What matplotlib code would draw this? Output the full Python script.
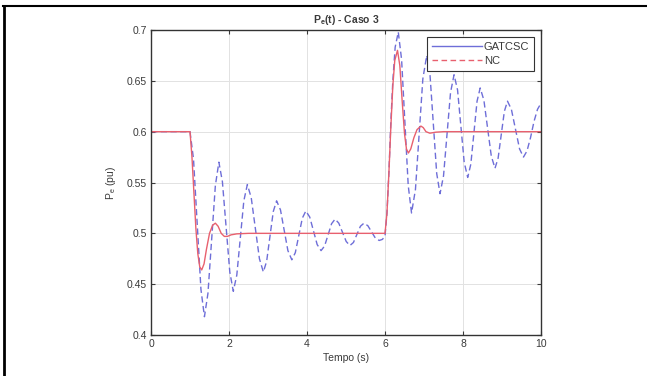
import matplotlib
matplotlib.use('Agg')
import matplotlib.pyplot as plt
from matplotlib.lines import Line2D

plt.rcParams['font.family'] = ['Liberation Sans', 'DejaVu Sans']
plt.rcParams['mathtext.fontset'] = 'custom'
plt.rcParams['mathtext.rm'] = 'Liberation Sans'
plt.rcParams['mathtext.bf'] = 'Liberation Sans:bold'
plt.rcParams['mathtext.default'] = 'regular'

# dashed blue curve
t_blue = [0.0, 1.00, 1.09, 1.185, 1.28, 1.37, 1.46, 1.555, 1.65, 1.74, 1.83, 1.925, 2.02,
          2.11, 2.20, 2.29, 2.38, 2.47, 2.57, 2.675, 2.78, 2.88, 2.965, 3.05, 3.135,
          3.22, 3.32, 3.415, 3.51, 3.61, 3.70, 3.79, 3.88, 3.97, 4.07, 4.165, 4.26,
          4.36, 4.45, 4.54, 4.63, 4.72, 4.815, 4.91, 5.005, 5.10, 5.19, 5.28, 5.37,
          5.46, 5.56, 5.655, 5.75, 5.85, 5.93, 6.00, 6.05, 6.10, 6.15, 6.20, 6.26,
          6.34, 6.425, 6.51, 6.595, 6.68, 6.78, 6.875, 6.97, 7.07, 7.155, 7.24, 7.325,
          7.41, 7.50, 7.59, 7.68, 7.77, 7.86, 7.945, 8.03, 8.12, 8.20, 8.28, 8.36,
          8.44, 8.535, 8.63, 8.725, 8.82, 8.90, 8.98, 9.06, 9.14, 9.24, 9.345, 9.45,
          9.55, 9.64, 9.73, 9.82, 9.91, 10.0]
y_blue = [0.600, 0.600, 0.573, 0.509, 0.445, 0.418, 0.441, 0.494, 0.547, 0.570, 0.551, 0.5065, 0.462,
          0.443, 0.459, 0.4955, 0.532, 0.548, 0.535, 0.505, 0.475, 0.462, 0.4725, 0.497, 0.5215,
          0.532, 0.523, 0.503, 0.483, 0.474, 0.481, 0.498, 0.515, 0.522, 0.516, 0.5025, 0.489,
          0.483, 0.4875, 0.4985, 0.5095, 0.514, 0.510, 0.501, 0.492, 0.488, 0.491, 0.499, 0.507,
          0.510, 0.5075, 0.5015, 0.4955, 0.493, 0.494, 0.497, 0.520, 0.560, 0.610, 0.650, 0.683,
          0.698, 0.671, 0.609, 0.547, 0.520, 0.543, 0.5975, 0.652, 0.675, 0.655, 0.607, 0.559,
          0.539, 0.5565, 0.5975, 0.6385, 0.656, 0.641, 0.6055, 0.570, 0.555, 0.568, 0.599, 0.630,
          0.643, 0.631, 0.6035, 0.576, 0.564, 0.574, 0.597, 0.620, 0.630, 0.622, 0.6025, 0.583,
          0.575, 0.581, 0.594, 0.610, 0.622, 0.628]

# solid red curve
t_red = [0.0, 1.00, 1.05, 1.10, 1.15, 1.20, 1.25, 1.30, 1.36, 1.42, 1.50, 1.58, 1.65, 1.72,
         1.80, 1.88, 1.96, 2.05, 2.20, 2.50, 6.00, 6.05, 6.10, 6.15, 6.20, 6.25, 6.32,
         6.38, 6.44, 6.50, 6.55, 6.60, 6.66, 6.74, 6.82, 6.92, 6.98, 7.05, 7.15, 7.30, 7.50, 10.0]
y_red = [0.600, 0.600, 0.575, 0.540, 0.505, 0.480, 0.467, 0.464, 0.470, 0.484, 0.500, 0.508, 0.510, 0.507,
         0.500, 0.497, 0.497, 0.4985, 0.4995, 0.500, 0.500, 0.520, 0.560, 0.605, 0.645, 0.670, 0.680,
         0.665, 0.630, 0.598, 0.583, 0.579, 0.583, 0.594, 0.602, 0.6055, 0.604, 0.600, 0.5985, 0.5995, 0.600, 0.600]

legend_labels = ['GATCSC', 'NC']
xticks = [0, 2, 4, 6, 8, 10]
yticks = [0.4, 0.45, 0.5, 0.55, 0.6, 0.65, 0.7]

blue = '#6e6ed8'
red = '#e8606e'
txt = '#3a3a3a'

fig = plt.figure(figsize=(6.47, 3.76), dpi=100)
ax = fig.add_axes([0.2334, 0.109, 0.6028, 0.8112])

ax.plot(t_blue, y_blue, '--', color=blue, lw=1.0, dashes=(4.5, 2.5))
ax.plot(t_red, y_red, '-', color=red, lw=1.0)

ax.set_xlim(0, 10)
ax.set_ylim(0.4, 0.7)
ax.set_xticks(xticks)
ax.set_yticks(yticks)
ax.set_xticklabels([str(v) for v in xticks])
ax.set_yticklabels(['0.4', '0.45', '0.5', '0.55', '0.6', '0.65', '0.7'])
ax.grid(True, color='#e2e2e2', lw=0.7)
ax.tick_params(direction='in', top=True, right=True, length=3, width=0.8,
               labelsize=7.5, colors=txt, pad=3)
for s in ax.spines.values():
    s.set_color('#333333')
    s.set_linewidth(1.0)

ax.set_title(r'P$_\mathbf{e}$(t) - Caso 3', fontsize=7.5, fontweight='bold', color=txt, pad=5)
ax.set_xlabel('Tempo (s)', fontsize=7.5, color=txt, labelpad=3)
ax.set_ylabel(r'P$_e$ (pu)', fontsize=7.5, color=txt, labelpad=6)

handles = [Line2D([], [], color=blue, lw=1.0, ls='-'),
           Line2D([], [], color=red, lw=1.0, ls='--', dashes=(4, 2.5))]
leg = ax.legend(handles, legend_labels, loc='upper right', fontsize=8, handlelength=4.5,
                frameon=True, fancybox=False, borderaxespad=0.6, borderpad=0.45,
                labelspacing=0.35, handletextpad=0.2, framealpha=1)
leg.get_frame().set_edgecolor('#333333')
leg.get_frame().set_linewidth(0.8)
for t in leg.get_texts():
    t.set_color(txt)

# page border lines
fig.add_artist(Line2D([0.005, 1.0], [0.985, 0.985], color='black', lw=1.5))
fig.add_artist(Line2D([0.0065, 0.0065], [0.0, 0.985], color='black', lw=2.0))

fig.savefig('out.png', dpi=100)
